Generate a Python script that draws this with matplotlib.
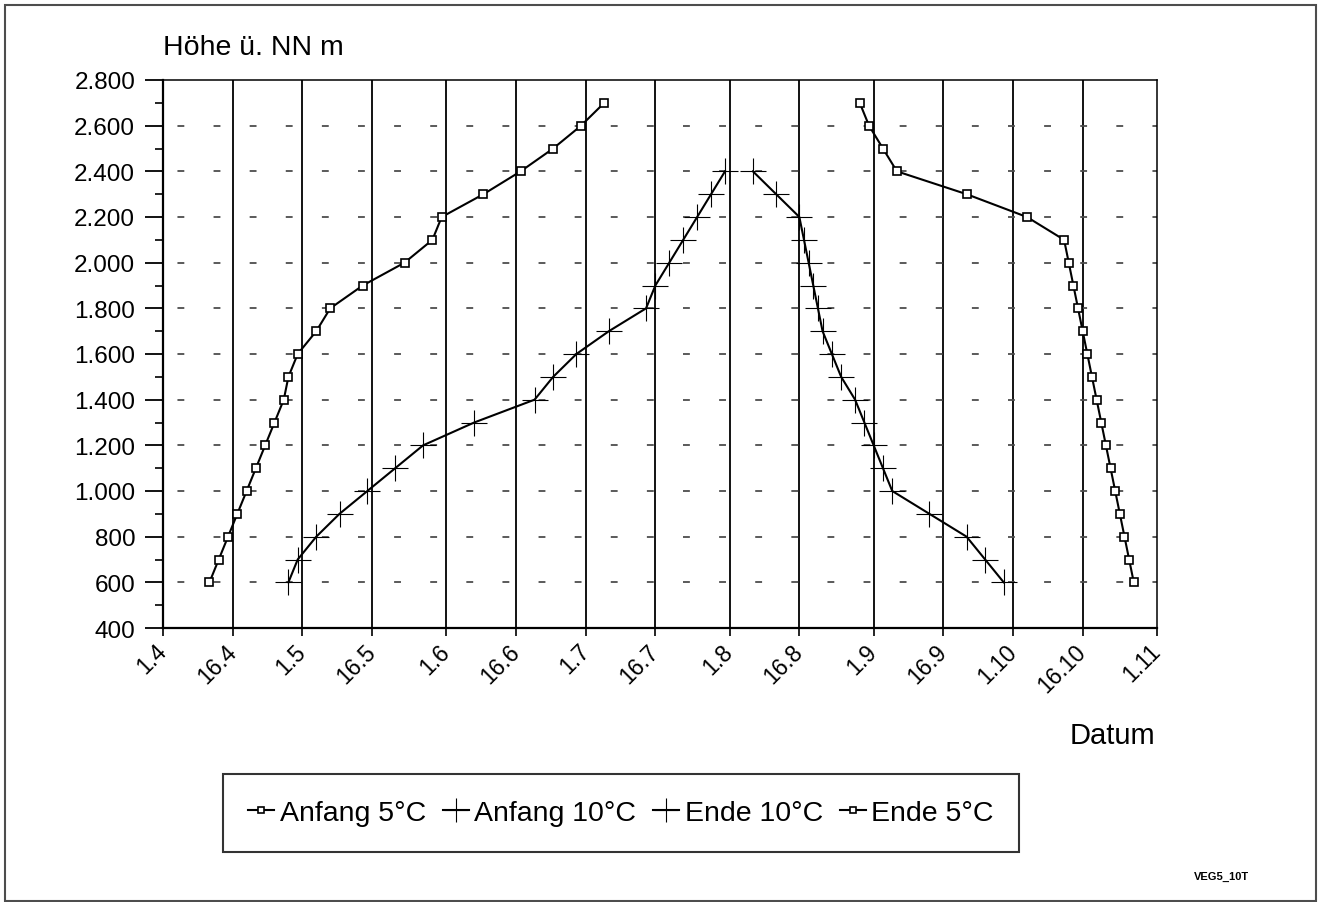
#!/usr/bin/env python3

import numpy as np
import matplotlib
matplotlib.use("Agg")
import matplotlib.pyplot as plt
from matplotlib.patches import Rectangle

# Tage ab 1. April, Hoehe in m ue. NN
anfang5_tag = [10, 12, 14, 16, 18, 20, 22, 24, 26, 27, 29, 33, 36, 43, 52, 58, 60, 69, 77, 84, 90, 95]
anfang5_hoehe = [600, 700, 800, 900, 1000, 1100, 1200, 1300, 1400, 1500, 1600, 1700,
                 1800, 1900, 2000, 2100, 2200, 2300, 2400, 2500, 2600, 2700]

anfang10_tag = [27, 29, 33, 38, 44, 50, 56, 67, 80, 84, 89, 96, 104, 106, 109, 112, 115, 118, 121]
anfang10_hoehe = [600, 700, 800, 900, 1000, 1100, 1200, 1300, 1400, 1500, 1600, 1700,
                  1800, 1900, 2000, 2100, 2200, 2300, 2400]

ende10_tag = [127, 132, 137, 138, 139, 140, 141, 142, 144, 146, 149, 151, 153, 155, 157, 165, 173, 177, 181]
ende10_hoehe = [2400, 2300, 2200, 2100, 2000, 1900, 1800, 1700, 1600, 1500, 1400, 1300,
                1200, 1100, 1000, 900, 800, 700, 600]

ende5_tag = [150, 152, 155, 158, 173, 186, 194, 195, 196, 197, 198, 199, 200, 201, 202, 203,
             204, 205, 206, 207, 208, 209]
ende5_hoehe = [2700, 2600, 2500, 2400, 2300, 2200, 2100, 2000, 1900, 1800, 1700, 1600, 1500,
               1400, 1300, 1200, 1100, 1000, 900, 800, 700, 600]

datum_labels = ["1.4", "16.4", "1.5", "16.5", "1.6", "16.6", "1.7", "16.7", "1.8", "16.8",
                "1.9", "16.9", "1.10", "16.10", "1.11"]
hoehe_ticks = [400, 600, 800, 1000, 1200, 1400, 1600, 1800, 2000, 2200, 2400, 2600, 2800]

plt.rcParams['font.family'] = ['Liberation Sans', 'DejaVu Sans']

start = np.datetime64("1990-04-01")


def to_date(tage):
    return start + np.array(tage, dtype="timedelta64[D]")


def label_to_date(s):
    d, m = s.split(".")
    return np.datetime64("1990-%02d-%02d" % (int(m), int(d)))


def hoehe_fmt(v):
    v = int(v)
    if v >= 1000:
        return "%d.%03d" % (v // 1000, v % 1000)
    return str(v)


fig = plt.figure(figsize=(13.21, 9.03), dpi=100)
ax = fig.add_axes([163 / 1321, 1 - 629 / 903, (1157 - 163) / 1321, (629 - 81) / 903])

xt = [label_to_date(s) for s in datum_labels]

# vertikale Gitterlinien durchgezogen, waagerechte gestrichelt
for x in xt[1:-1]:
    ax.axvline(x, color="black", lw=1.3, zorder=1)
for h in hoehe_ticks[1:-1]:
    ax.axhline(h, color="0.3", lw=1.3, linestyle=(12.0, (3.8, 16.2)), zorder=1)

ax.plot(to_date(anfang5_tag), anfang5_hoehe, color="black", lw=1.5, marker="s", ms=5.5,
        mfc="white", mec="black", mew=1.2, label="Anfang 5°C", zorder=3)
ax.plot(to_date(anfang10_tag), anfang10_hoehe, color="black", lw=1.5, marker="+", ms=19,
        mew=0.8, label="Anfang 10°C", zorder=3)
ax.plot(to_date(ende10_tag), ende10_hoehe, color="black", lw=1.5, marker="+", ms=19,
        mew=0.8, label="Ende 10°C", zorder=3)
ax.plot(to_date(ende5_tag), ende5_hoehe, color="black", lw=1.5, marker="s", ms=5.5,
        mfc="white", mec="black", mew=1.2, label="Ende 5°C", zorder=3)

ax.set_xlim(xt[0], xt[-1])
ax.set_ylim(400, 2800)
ax.set_xticks(xt)
ax.set_xticklabels(datum_labels, rotation=45, ha="right", va="center",
                   rotation_mode="anchor", fontsize=16.5)
ax.set_yticks(hoehe_ticks)
ax.set_yticklabels([hoehe_fmt(h) for h in hoehe_ticks], fontsize=17.5)
ax.set_yticks(np.arange(500, 2800, 200), minor=True)
ax.tick_params(axis="y", which="major", length=13, width=1.3, pad=7)
ax.tick_params(axis="y", which="minor", length=6, width=1.2)
ax.tick_params(axis="x", which="major", length=6, width=1.2, pad=8)

for side in ["left", "bottom"]:
    ax.spines[side].set_linewidth(1.6)
for side in ["top", "right"]:
    ax.spines[side].set_linewidth(1.1)

fig.text(163 / 1321, 1 - 48 / 903, "Höhe ü. NN m", fontsize=20.5, va="center", ha="left")
fig.text(1155 / 1321, 1 - 736 / 903, "Datum", fontsize=21, va="center", ha="right")
fig.text(1221 / 1321, 1 - 877 / 903, "VEG5_10T", fontsize=8, fontweight="bold",
         va="center", ha="center")

leg = fig.legend(loc="center", bbox_to_anchor=(621 / 1321, 1 - 814 / 903), ncol=4,
                 fontsize=20.5, frameon=True, fancybox=False, edgecolor="black",
                 handlelength=0.9, handletextpad=0.2, columnspacing=0.6,
                 borderpad=0.9, markerscale=0.9)
leg.get_frame().set_linewidth(1.5)

# Rahmen um das ganze Blatt
fig.patches.append(Rectangle((5 / 1321, 1 / 903), 1311 / 1321, 896 / 903,
                             transform=fig.transFigure, fill=False,
                             edgecolor="0.3", lw=1.5))

fig.savefig("out.png", dpi=100)
